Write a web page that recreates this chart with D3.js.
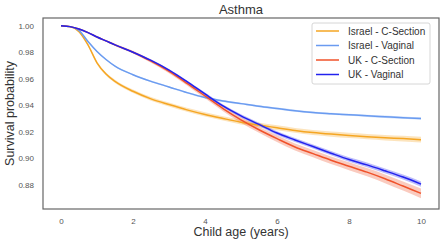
<!DOCTYPE html>
<html>
<head>
<meta charset="utf-8">
<script src="https://cdn.jsdelivr.net/npm/d3@7"></script>
<style>
  body { margin: 0; background: #fff; }
  svg { font-family: "Liberation Sans", Arial, sans-serif; }
</style>
</head>
<body>
<svg width="440" height="242"></svg>
<script>
// shared time points (years)
var years = [0, 0.25, 0.5, 0.75, 1, 1.25, 1.5, 2, 2.5, 3, 3.5, 4, 4.5, 5, 5.5, 6, 6.5, 7, 7.5, 8, 8.5, 9, 9.5, 10];

var seriesNames = ["Israel - C-Section", "Israel - Vaginal", "UK - C-Section", "UK - Vaginal"];
var seriesColors = ["#f5a623", "#6a9bf0", "#f0522a", "#2222ee"];

var israelCS = [1.0, 0.9993, 0.9955, 0.9855, 0.972, 0.9635, 0.958, 0.9505, 0.9448, 0.9405, 0.9365, 0.933, 0.93, 0.9272, 0.925, 0.923, 0.921, 0.9194, 0.9182, 0.9172, 0.9163, 0.9155, 0.9148, 0.914];
var israelV = [1.0, 0.9993, 0.9965, 0.988, 0.9805, 0.9745, 0.9695, 0.963, 0.958, 0.9538, 0.9495, 0.9458, 0.9432, 0.9412, 0.9392, 0.9375, 0.9358, 0.9345, 0.9336, 0.9328, 0.932, 0.9313, 0.9306, 0.930];
var ukCS = [1.0, 0.9993, 0.9975, 0.9948, 0.9915, 0.9885, 0.9855, 0.98, 0.9732, 0.9655, 0.9565, 0.947, 0.9375, 0.929, 0.9215, 0.9148, 0.9085, 0.9035, 0.8985, 0.894, 0.8895, 0.8845, 0.879, 0.8735];
var ukV = [1.0, 0.9993, 0.9975, 0.9948, 0.9915, 0.9885, 0.9855, 0.98, 0.9738, 0.9665, 0.9578, 0.9485, 0.9395, 0.932, 0.9255, 0.919, 0.9138, 0.9088, 0.9038, 0.899, 0.895, 0.8905, 0.8858, 0.8805];

// confidence band half-widths
var israelCSci = [0, 0, 0.0003, 0.0008, 0.001, 0.0011, 0.0012, 0.0013, 0.0014, 0.0015, 0.0015, 0.0016, 0.0016, 0.0017, 0.0017, 0.0018, 0.0018, 0.0019, 0.0019, 0.002, 0.002, 0.0021, 0.0021, 0.0022];
var israelVci = [0, 0, 0.0002, 0.0004, 0.0005, 0.0005, 0.0005, 0.0006, 0.0006, 0.0006, 0.0006, 0.0007, 0.0007, 0.0007, 0.0007, 0.0007, 0.0008, 0.0008, 0.0008, 0.0008, 0.0008, 0.0009, 0.0009, 0.0009];
var ukCSci = [0, 0, 0.0002, 0.0004, 0.0006, 0.0007, 0.0008, 0.001, 0.0012, 0.0014, 0.0016, 0.0018, 0.002, 0.0022, 0.0023, 0.0025, 0.0026, 0.0027, 0.0029, 0.003, 0.0031, 0.0033, 0.0034, 0.0036];
var ukVci = [0, 0, 0.0001, 0.0002, 0.0003, 0.0004, 0.0005, 0.0006, 0.0007, 0.0008, 0.0009, 0.001, 0.0011, 0.0012, 0.0013, 0.0014, 0.0015, 0.0015, 0.0016, 0.0017, 0.0018, 0.0018, 0.0019, 0.002];

var xTicks = [0, 2, 4, 6, 8, 10];
var yTicks = [0.88, 0.90, 0.92, 0.94, 0.96, 0.98, 1.00];

var svg = d3.select("svg");
var margin = {top: 18, right: 1, bottom: 33, left: 43};
var width = 440 - margin.left - margin.right;
var height = 242 - margin.top - margin.bottom;

var g = svg.append("g")
    .attr("transform", "translate(" + margin.left + "," + margin.top + ")");

var x = d3.scaleLinear().domain([-0.5, 10.5]).range([0, width]);
var y = d3.scaleLinear().domain([0.8617, 1.0058]).range([height, 0]);

var values = [israelCS, israelV, ukCS, ukV];
var cis = [israelCSci, israelVci, ukCSci, ukVci];

var line = d3.line()
    .x(function(d) { return x(d[0]); })
    .y(function(d) { return y(d[1]); })
    .curve(d3.curveMonotoneX);

var area = d3.area()
    .x(function(d) { return x(d[0]); })
    .y0(function(d) { return y(d[1] - d[2]); })
    .y1(function(d) { return y(d[1] + d[2]); })
    .curve(d3.curveMonotoneX);

// bands first
values.forEach(function(vals, i) {
    var pts = years.map(function(t, j) { return [t, vals[j], cis[i][j]]; });
    g.append("path")
        .datum(pts)
        .attr("d", area)
        .attr("fill", seriesColors[i])
        .attr("fill-opacity", 0.3);
});

values.forEach(function(vals, i) {
    var pts = years.map(function(t, j) { return [t, vals[j]]; });
    g.append("path")
        .datum(pts)
        .attr("d", line)
        .attr("fill", "none")
        .attr("stroke", seriesColors[i])
        .attr("stroke-width", 1.5);
});

// axes (no tick marks, labels only)
var xAxis = g.append("g")
    .attr("transform", "translate(0," + height + ")")
    .call(d3.axisBottom(x).tickValues(xTicks).tickSize(0).tickPadding(9).tickFormat(d3.format("d")));
var yAxis = g.append("g")
    .call(d3.axisLeft(y).tickValues(yTicks).tickSize(0).tickPadding(9).tickFormat(d3.format(".2f")));

[xAxis, yAxis].forEach(function(ax) {
    ax.select(".domain").remove();
    ax.selectAll("text").attr("fill", "#555").style("font-size", "8px");
});

// frame
g.append("rect")
    .attr("width", width)
    .attr("height", height)
    .attr("fill", "none")
    .attr("stroke", "#666")
    .attr("stroke-width", 1.2);

// title and labels
svg.append("text")
    .attr("x", margin.left + width / 2)
    .attr("y", 14)
    .attr("text-anchor", "middle")
    .attr("fill", "#333")
    .style("font-size", "13px")
    .text("Asthma");

svg.append("text")
    .attr("x", margin.left + width / 2)
    .attr("y", 236)
    .attr("text-anchor", "middle")
    .attr("fill", "#333")
    .style("font-size", "12.5px")
    .text("Child age (years)");

svg.append("text")
    .attr("transform", "translate(14," + (margin.top + height / 2) + ") rotate(-90)")
    .attr("text-anchor", "middle")
    .attr("fill", "#333")
    .style("font-size", "12.5px")
    .text("Survival probability");

// legend
var legend = svg.append("g").attr("transform", "translate(312,23)");
legend.append("rect")
    .attr("width", 118)
    .attr("height", 61)
    .attr("rx", 2)
    .attr("fill", "#fff")
    .attr("fill-opacity", 0.85)
    .attr("stroke", "#ccc")
    .attr("stroke-width", 0.8);

seriesNames.forEach(function(name, i) {
    var row = legend.append("g").attr("transform", "translate(0," + (8 + i * 14.5) + ")");
    row.append("line")
        .attr("x1", 4).attr("x2", 27)
        .attr("stroke", seriesColors[i])
        .attr("stroke-width", 1.5);
    row.append("text")
        .attr("x", 36)
        .attr("dy", "0.35em")
        .attr("fill", "#333")
        .style("font-size", "10px")
        .text(name);
});
</script>
</body>
</html>
